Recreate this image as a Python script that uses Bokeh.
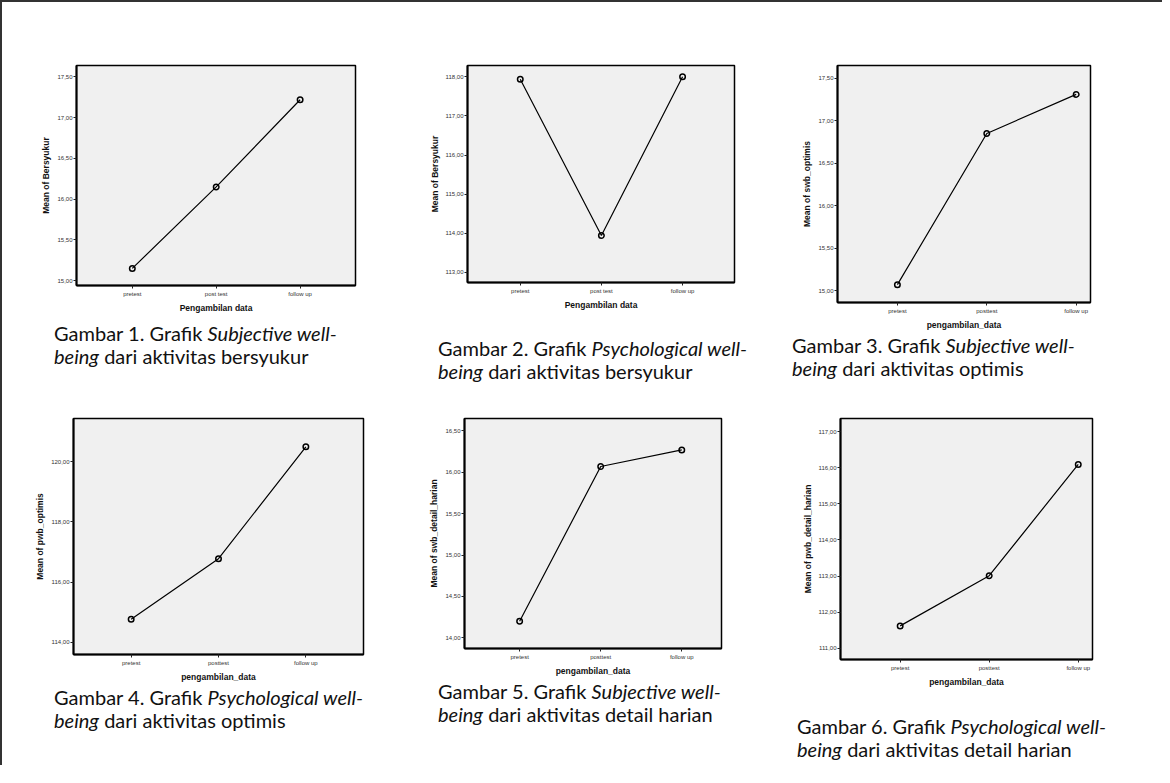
from bokeh.plotting import figure
from bokeh.models import Range1d, FixedTicker, CustomJSTickFormatter, Div
from bokeh.layouts import column, row
from bokeh.embed import file_html
from bokeh.resources import INLINE

# ---------------- data ----------------
x_pos = [1, 2, 3]
categories_a = ["pretest", "post test", "follow up"]
categories_b = ["pretest", "posttest", "follow up"]

swb_bersyukur = [15.15, 16.15, 17.22]
pwb_bersyukur = [117.94, 113.94, 118.00]
swb_optimis = [15.07, 16.85, 17.31]
pwb_optimis = [114.77, 116.78, 120.49]
swb_detail_harian = [14.20, 16.07, 16.27]
pwb_detail_harian = [111.62, 113.01, 116.09]

yticks_1 = [15.0, 15.5, 16.0, 16.5, 17.0, 17.5]
yticks_2 = [113.0, 114.0, 115.0, 116.0, 117.0, 118.0]
yticks_3 = [15.0, 15.5, 16.0, 16.5, 17.0, 17.5]
yticks_4 = [114.0, 116.0, 118.0, 120.0]
yticks_5 = [14.0, 14.5, 15.0, 15.5, 16.0, 16.5]
yticks_6 = [111.0, 112.0, 113.0, 114.0, 115.0, 116.0, 117.0]

ylabel_1 = "Mean of Bersyukur"
ylabel_2 = "Mean of Bersyukur"
ylabel_3 = "Mean of swb_optimis"
ylabel_4 = "Mean of pwb_optimis"
ylabel_5 = "Mean of swb_detail_harian"
ylabel_6 = "Mean of pwb_detail_harian"
xlabel_a = "Pengambilan data"
xlabel_b = "pengambilan_data"

captions = [
    ("1", "Subjective", "bersyukur"),
    ("2", "Psychological", "bersyukur"),
    ("3", "Subjective", "optimis"),
    ("4", "Psychological", "optimis"),
    ("5", "Subjective", "detail harian"),
    ("6", "Psychological", "detail harian"),
]

FONT = "Liberation Sans"


def make_chart(values, cats, yticks, yr, xr, ylabel, xlabel,
               b_left, f_w, b_right, b_top, f_h, b_bottom):
    p = figure(width=b_left + f_w + b_right, height=b_top + f_h + b_bottom,
               x_range=Range1d(*xr), y_range=Range1d(*yr),
               output_backend="svg", toolbar_location=None,
               min_border_left=b_left, min_border_right=b_right,
               min_border_top=b_top, min_border_bottom=b_bottom)
    p.background_fill_color = "#f0f0f0"
    p.border_fill_color = "white"
    p.outline_line_color = "black"
    p.outline_line_width = 1.5
    p.xgrid.visible = False
    p.ygrid.visible = False

    p.line(x_pos, values, line_color="black", line_width=1.2)
    p.scatter(x_pos, values, marker="circle", size=5.5, fill_color=None,
              line_color="black", line_width=1.5)

    xa = p.xaxis[0]
    xa.ticker = FixedTicker(ticks=x_pos)
    xa.major_label_overrides = {i + 1: c for i, c in enumerate(cats)}
    ya = p.yaxis[0]
    ya.ticker = FixedTicker(ticks=yticks)
    ya.formatter = CustomJSTickFormatter(code="return tick.toFixed(2).replace('.', ',');")
    for ax in (xa, ya):
        ax.axis_line_color = "black"
        ax.axis_line_width = 2
        ax.major_tick_in = 0
        ax.major_tick_out = 3
        ax.major_tick_line_color = "#222222"
        ax.minor_tick_line_color = None
        ax.major_label_text_font = FONT
        ax.major_label_text_font_size = "6px"
        ax.major_label_text_color = "#333333"
        ax.axis_label_text_font = FONT
        ax.axis_label_text_font_size = "8.5px"
        ax.axis_label_text_font_style = "bold"
        ax.axis_label_text_color = "#111111"
    xa.major_label_standoff = 2
    xa.axis_label_standoff = 3
    ya.major_label_standoff = 1
    ya.axis_label_standoff = 3
    xa.axis_label = xlabel
    ya.axis_label = ylabel
    return p


def make_caption(cap, width, height, pad_left, pad_top):
    num, kind, act = cap
    html = (
        f'<div style="font-family: Lato, \'Open Sans\', sans-serif; font-size: 20px; '
        f'line-height: 23px; color: #111; padding-left: {pad_left}px; padding-top: {pad_top}px; '
        f'white-space: nowrap;">'
        f'Gambar {num}. Grafik <i>{kind} well-</i><br><i>being</i> dari aktivitas {act}</div>'
    )
    return Div(text=html, width=width, height=height, margin=0)


# ---------------- charts ----------------
c1 = make_chart(swb_bersyukur, categories_a, yticks_1, (14.94, 17.64), (0.335, 3.66),
                ylabel_1, xlabel_a, 74, 279, 37, 63, 220, 30)
c2 = make_chart(pwb_bersyukur, categories_a, yticks_2, (112.74, 118.29), (0.35, 3.64),
                ylabel_2, xlabel_a, 75, 267, 28, 63, 217, 30)
c3 = make_chart(swb_optimis, categories_b, yticks_3, (14.86, 17.65), (0.33, 3.16),
                ylabel_3, xlabel_b, 75, 253, 72, 63, 239, 28)
c4 = make_chart(pwb_optimis, categories_b, yticks_4, (113.6, 121.43), (0.34, 3.66),
                ylabel_4, xlabel_b, 71, 290, 29, 26, 236, 30)
c5 = make_chart(swb_detail_harian, categories_b, yticks_5, (13.87, 16.65), (0.32, 3.49),
                ylabel_5, xlabel_b, 72, 257, 41, 26, 230, 30)
c6 = make_chart(pwb_detail_harian, categories_b, yticks_6, (110.69, 117.36), (0.33, 3.16),
                ylabel_6, xlabel_b, 78, 252, 70, 26, 241, 30)

ROW_H = 390
cells_top = []
for fig, cap, w, pl, pt in [(c1, captions[0], 390, 52, 7),
                            (c2, captions[1], 370, 46, 25),
                            (c3, captions[2], 400, 30, 2)]:
    d = make_caption(cap, w, ROW_H - fig.height, pl, pt)
    cells_top.append(column(fig, d, spacing=0, margin=0))

cells_bot = []
for fig, cap, w, pl, pt in [(c4, captions[3], 390, 52, 2),
                            (c5, captions[4], 370, 46, 2),
                            (c6, captions[5], 400, 35, 26)]:
    d = make_caption(cap, w, 373 - fig.height, pl, pt)
    cells_bot.append(column(fig, d, spacing=0, margin=0))

layout = column(row(*cells_top, spacing=0, margin=0),
                row(*cells_bot, spacing=0, margin=0),
                spacing=0, margin=0,
                styles={"border-left": "2px solid #333", "border-top": "2px solid #333"})

open("out.html", "w").write(file_html(layout, INLINE))
